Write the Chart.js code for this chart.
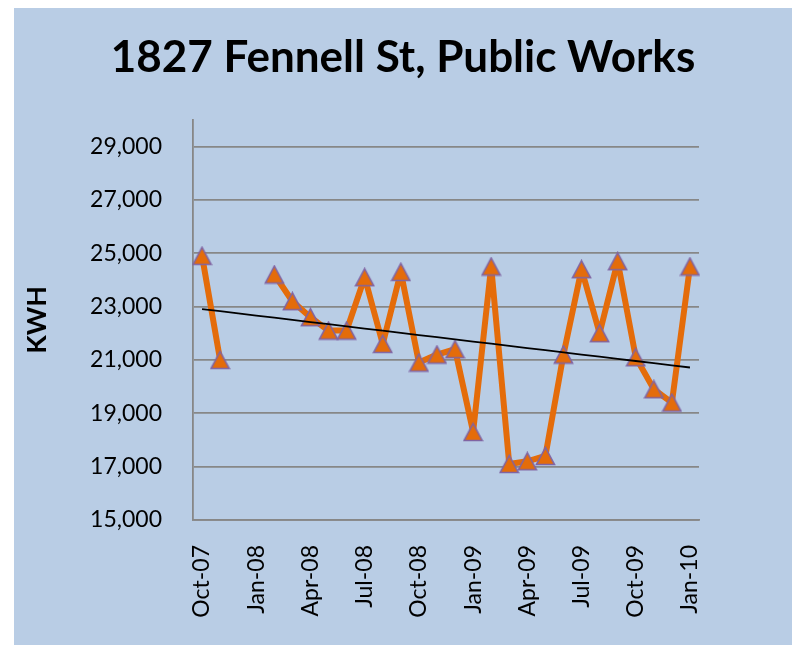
<!DOCTYPE html>
<html>
<head>
<meta charset="utf-8">
<script src="https://cdn.jsdelivr.net/npm/chart.js@4"></script>
<style>
    html, body { margin: 0; padding: 0; background: #ffffff; }
    #wrap {
        position: absolute;
        left: 14px;
        top: 8px;
        width: 778px;
        height: 637px;
        background: #b9cde5;
    }
</style>
</head>
<body>
<div id="wrap"><canvas id="kwhChart"></canvas></div>
<script>
// Aylık etiketler (Oct-07 .. Jan-10)
const months = [
    'Oct-07', 'Nov-07', 'Dec-07', 'Jan-08', 'Feb-08', 'Mar-08', 'Apr-08',
    'May-08', 'Jun-08', 'Jul-08', 'Aug-08', 'Sep-08', 'Oct-08', 'Nov-08',
    'Dec-08', 'Jan-09', 'Feb-09', 'Mar-09', 'Apr-09', 'May-09', 'Jun-09',
    'Jul-09', 'Aug-09', 'Sep-09', 'Oct-09', 'Nov-09', 'Dec-09', 'Jan-10'
];

// Tüketim (KWH), Dec-07 ve Jan-08 boş
const kwhValues = [
    24900, 21000, null, null, 24200, 23200, 22600,
    22100, 22100, 24100, 21600, 24300, 20900, 21200,
    21400, 18300, 24500, 17100, 17200, 17400, 21200,
    24400, 22000, 24700, 21100, 19900, 19400, 24500
];

const yTicks = [15000, 17000, 19000, 21000, 23000, 25000, 27000, 29000];

// Doğrusal eğilim çizgisi (boş değerler hariç)
function linearTrend(values) {
    const pts = values
        .map((v, i) => ({ x: i, y: v }))
        .filter(p => p.y !== null);
    const n = pts.length;
    const mx = pts.reduce((s, p) => s + p.x, 0) / n;
    const my = pts.reduce((s, p) => s + p.y, 0) / n;
    let sxy = 0, sxx = 0;
    pts.forEach(p => {
        sxy += (p.x - mx) * (p.y - my);
        sxx += (p.x - mx) * (p.x - mx);
    });
    const slope = sxy / sxx;
    const intercept = my - slope * mx;
    return values.map((v, i) => intercept + slope * i);
}

const trendValues = linearTrend(kwhValues);

// Üçgen işaretçi (kutusu noktaya ortalanmış)
function makeTriangle() {
    const c = document.createElement('canvas');
    c.width = 21;
    c.height = 20;
    const ctx = c.getContext('2d');
    ctx.beginPath();
    ctx.moveTo(10.5, 1.5);
    ctx.lineTo(19.5, 18.5);
    ctx.lineTo(1.5, 18.5);
    ctx.closePath();
    ctx.fillStyle = '#e46c0a';
    ctx.fill();
    ctx.lineWidth = 1.6;
    ctx.lineJoin = 'miter';
    ctx.strokeStyle = '#8064a2';
    ctx.stroke();
    return c;
}

const gridColor = '#878787';

new Chart(document.getElementById('kwhChart'), {
    type: 'line',
    data: {
        labels: months,
        datasets: [
            {
                label: 'Trend',
                data: trendValues,
                borderColor: '#000000',
                borderWidth: 1.8,
                pointRadius: 0,
                order: 0
            },
            {
                label: 'KWH',
                data: kwhValues,
                borderColor: '#e46c0a',
                borderWidth: 6,
                borderJoinStyle: 'round',
                borderCapStyle: 'round',
                pointStyle: makeTriangle(),
                pointRadius: 10,
                spanGaps: false,
                order: 1
            }
        ]
    },
    options: {
        responsive: true,
        maintainAspectRatio: false,
        animation: false,
        layout: {
            padding: 0
        },
        plugins: {
            legend: { display: false },
            tooltip: { enabled: false },
            title: {
                display: true,
                text: '1827 Fennell St, Public Works',
                color: '#000000',
                font: { family: 'Lato', size: 44, weight: 'bold' },
                padding: { top: 23, bottom: 36 }
            }
        },
        scales: {
            x: {
                type: 'category',
                offset: true,
                grid: { display: false, drawTicks: false },
                border: { display: true, color: gridColor, width: 1.8 },
                ticks: {
                    autoSkip: false,
                    maxRotation: 90,
                    minRotation: 90,
                    padding: 25,
                    color: '#000000',
                    font: { family: 'Lato', size: 23 },
                    callback: function(value, index) {
                        return index % 3 === 0 ? months[index] : '';
                    }
                },
                afterFit: function(scale) {
                    scale.height = 125;
                }
            },
            y: {
                min: 15000,
                max: 30000,
                afterBuildTicks: function(scale) {
                    scale.ticks = yTicks.map(v => ({ value: v }));
                },
                grid: { color: gridColor, lineWidth: 1.8, drawTicks: false },
                border: { display: true, color: gridColor, width: 1.8 },
                ticks: {
                    padding: 31,
                    color: '#000000',
                    font: { family: 'Lato', size: 23 },
                    callback: function(value) {
                        return value.toLocaleString('en-US');
                    }
                },
                title: {
                    display: true,
                    text: 'KWH',
                    color: '#000000',
                    font: { family: 'Lato', size: 27, weight: 'bold' },
                    padding: { top: 7, bottom: 0 }
                },
                afterFit: function(scale) {
                    scale.width = 179;
                }
            },
            // sağdaki boşluk için görünmez eksen
            yRight: {
                position: 'right',
                display: true,
                min: 15000,
                max: 30000,
                grid: { display: false, drawTicks: false },
                border: { display: false },
                ticks: { display: false },
                afterFit: function(scale) {
                    scale.width = 93;
                }
            }
        }
    }
});
</script>
</body>
</html>
